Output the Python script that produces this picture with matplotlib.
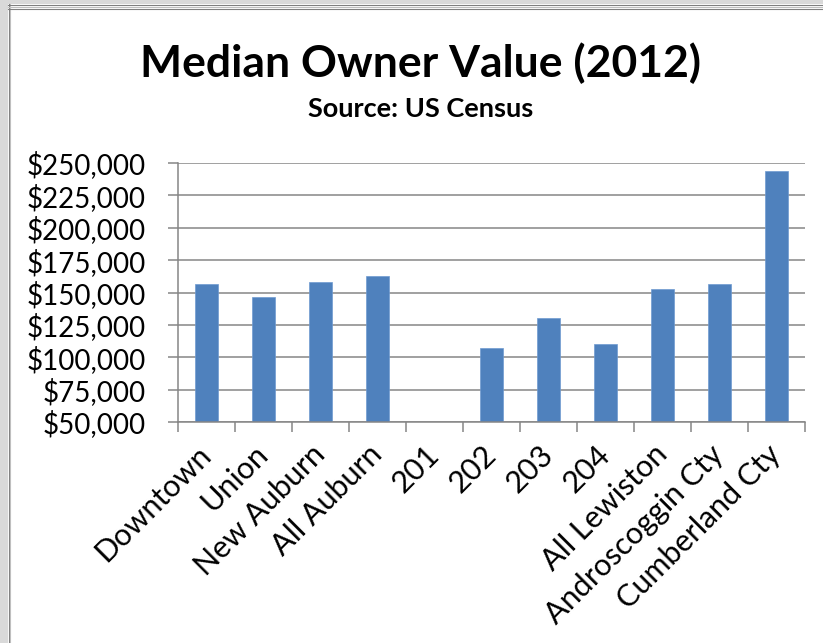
import numpy as np
import matplotlib
matplotlib.use("Agg")
import matplotlib.pyplot as plt
from matplotlib.ticker import FuncFormatter, FixedLocator
from matplotlib.patches import Rectangle
from matplotlib.lines import Line2D

categories = ["Downtown", "Union", "New Auburn", "All Auburn", "201", "202",
              "203", "204", "All Lewiston", "Androscoggin Cty", "Cumberland Cty"]
values = [156700, 146600, 158200, 162600, np.nan, 107300,
          130500, 110200, 152800, 156700, 243800]
y_ticks = [50000, 75000, 100000, 125000, 150000, 175000, 200000, 225000, 250000]

plt.rcParams["font.family"] = ["Lato", "DejaVu Sans"]
GRID = "#868686"
BAR = "#4F81BD"

fig = plt.figure(figsize=(8.23, 6.43), dpi=100)
W, H = 823, 643

# window-like frame on the left / top
fig.patches.append(Rectangle((0, 0), 8 / W, 1, transform=fig.transFigure,
                             facecolor="#d9d9d9", edgecolor="none", zorder=0))
fig.patches.append(Rectangle((0, 1 - 4 / H), 1, 4 / H, transform=fig.transFigure,
                             facecolor="#d9d9d9", edgecolor="none", zorder=0))
for xx, c in [(8.5, "#7f7f7f"), (9.5, "#bfbfbf")]:
    fig.lines.append(Line2D([xx / W, xx / W], [0, 1 - 4 / H], transform=fig.transFigure,
                            color=c, lw=0.8))
for yy, c in [(4.5, "#7f7f7f"), (6.5, "#bfbfbf"), (8.5, "#7f7f7f")]:
    fig.lines.append(Line2D([8 / W, 1], [1 - yy / H, 1 - yy / H], transform=fig.transFigure,
                            color=c, lw=0.8))

ax = fig.add_axes([178 / W, 1 - 422 / H, 627 / W, 259 / H])
x = np.arange(len(categories))
ax.bar(x, values, width=0.4, color=BAR, edgecolor="#6f9bd1", linewidth=0.5, zorder=3)

ax.set_xlim(-0.5, len(categories) - 0.5)
ax.set_ylim(50000, 250000)
ax.yaxis.set_major_locator(FixedLocator(y_ticks))
ax.yaxis.set_major_formatter(FuncFormatter(lambda v, p: f"${v:,.0f}"))
ax.grid(axis="y", color=GRID, linewidth=1.1, zorder=1)

for s in ["top", "right"]:
    ax.spines[s].set_visible(False)
for s in ["left", "bottom"]:
    ax.spines[s].set_color(GRID)
    ax.spines[s].set_linewidth(1.1)
    ax.spines[s].set_zorder(4)

ax.tick_params(axis="y", length=7.2, width=1.1, color=GRID, pad=16, labelsize=20)

# boundary tick marks, labels at category centres
ax.set_xticks(np.arange(len(categories) + 1) - 0.5)
ax.set_xticklabels([])
ax.set_xticks(x, minor=True)
ax.set_xticklabels(categories, minor=True, rotation=45, ha="right",
                   va="center", rotation_mode="anchor", fontsize=22)
ax.tick_params(axis="x", which="major", length=7.2, width=1.1, color=GRID)
ax.tick_params(axis="x", which="minor", length=0, pad=20)

fig.text(421 / W, 1 - 77 / H, "Median Owner Value (2012)", ha="center", va="baseline",
         fontsize=32, fontweight="bold")
fig.text(421 / W, 1 - 117 / H, "Source: US Census", ha="center", va="baseline",
         fontsize=19.5, fontweight="bold")

fig.savefig("out.png", dpi=100)
